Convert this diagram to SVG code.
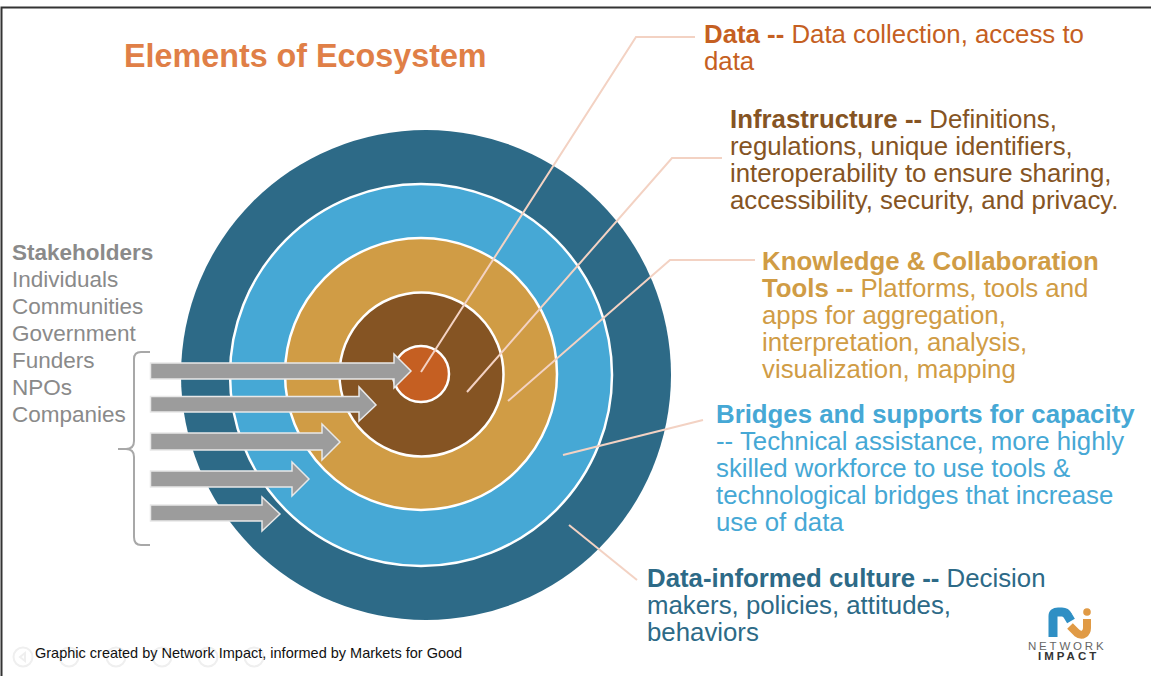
<svg xmlns="http://www.w3.org/2000/svg" width="1151" height="676" viewBox="0 0 1151 676">
<style>
text{font-family:"Liberation Sans",Arial,sans-serif;font-size:25.800px}
.b{font-weight:bold}
.ring{stroke:#fff;stroke-width:2.500}
.lead{fill:none;stroke:#f3d2c3;stroke-width:2}
.arrow{fill:#9c9c9c;stroke:#e8e8e8;stroke-width:1.500}
.nav{fill:none;stroke:#efefef;stroke-width:2}
.gray{fill:#8a8a8a}
.gray text{font-size:22.500px}
.d{fill:#c55f22}.i{fill:#855423}.k{fill:#d09c45}.s{fill:#46a8d5}.c{fill:#2d6a87}
</style>
<rect width="1151" height="676" fill="#fff"/>
<path d="M1.500 676V7.500H1151" fill="none" stroke="#333" stroke-width="2"/>
<g id="rings">
<circle class="c" cx="426" cy="375" r="245"/>
<circle class="ring s" cx="421" cy="375" r="191"/>
<circle class="ring k" cx="421" cy="374" r="136"/>
<circle class="ring i" cx="421.500" cy="374.500" r="82"/>
<circle class="ring d" cx="421" cy="374" r="28"/>
</g>
<g id="connectors">
<path class="lead" d="M421 372L636 37H695"/>
<path class="lead" d="M467 392L672 158H722"/>
<path class="lead" d="M508 401L670 260H755"/>
<path class="lead" d="M563 455L703 420"/>
<path class="lead" d="M569 525L637 580"/>
<path d="M150 352H141Q134 352 134 359V441Q134 449 126 449H118H126Q134 449 134 457V537Q134 545 141 545H150" fill="none" stroke="#a8a8a8" stroke-width="2"/>
</g>
<g id="arrows">
<path class="arrow" d="M150.500 363H394V354L411 371L394 388V379H150.500Z"/>
<path class="arrow" d="M150.500 396.500H359V387L376 405L359 421V412H150.500Z"/>
<path class="arrow" d="M150.500 433H322V424L340 442L322 460V450H150.500Z"/>
<path class="arrow" d="M150.500 471H292V462L309 479L292 496V487H150.500Z"/>
<path class="arrow" d="M150.500 505H262V497L280 514L262 531V521H150.500Z"/>
</g>
<g id="title"><text x="124" y="67" class="b" style="font-size:32.300px" fill="#e07f47">Elements of Ecosystem</text></g>
<g id="stakeholders" class="gray">
<text x="12" y="260" class="b">Stakeholders</text>
<text x="12" y="287">Individuals</text>
<text x="12" y="314">Communities</text>
<text x="12" y="341">Government</text>
<text x="12" y="368">Funders</text>
<text x="12" y="395">NPOs</text>
<text x="12" y="422">Companies</text>
</g>
<g id="data" class="d">
<text x="704" y="43"><tspan class="b">Data --</tspan> Data collection, access to</text>
<text x="704" y="70">data</text>
</g>
<g id="infrastructure" class="i">
<text x="730" y="128"><tspan class="b">Infrastructure --</tspan> Definitions,</text>
<text x="730" y="155">regulations, unique identifiers,</text>
<text x="730" y="182">interoperability to ensure sharing,</text>
<text x="730" y="209">accessibility, security, and privacy.</text>
</g>
<g id="knowledge" class="k">
<text x="762" y="270" class="b">Knowledge &amp; Collaboration</text>
<text x="762" y="297"><tspan class="b">Tools --</tspan> Platforms, tools and</text>
<text x="762" y="324">apps for aggregation,</text>
<text x="762" y="351">interpretation, analysis,</text>
<text x="762" y="378">visualization, mapping</text>
</g>
<g id="bridges" class="s">
<text x="716" y="423" class="b">Bridges and supports for capacity</text>
<text x="716" y="450">-- Technical assistance, more highly</text>
<text x="716" y="477">skilled workforce to use tools &amp;</text>
<text x="716" y="504">technological bridges that increase</text>
<text x="716" y="531">use of data</text>
</g>
<g id="culture" class="c">
<text x="647" y="587"><tspan class="b">Data-informed culture --</tspan> Decision</text>
<text x="647" y="614">makers, policies, attitudes,</text>
<text x="647" y="641">behaviors</text>
</g>
<g id="nav">
<circle class="nav" cx="23" cy="657" r="9.500"/><path class="nav" d="M25 653L20 657L25 661Z" stroke-width="1"/><circle class="nav" cx="69" cy="657" r="9.500"/><circle class="nav" cx="116" cy="657" r="9.500"/><circle class="nav" cx="162" cy="657" r="9.500"/><circle class="nav" cx="208" cy="657" r="9.500"/><circle class="nav" cx="254" cy="657" r="9.500"/>
</g>
<g id="credit"><text x="35" y="658" style="font-size:14.500px" fill="#111">Graphic created by Network Impact, informed by Markets for Good</text></g>
<g id="logo">
<path d="M1053 637V616Q1053 612 1058 612H1062Q1066 612 1068 616L1071 621" fill="none" stroke="#2f8fc4" stroke-width="9"/>
<path d="M1070 626L1077 633Q1081 636 1084 634Q1087 632 1087 628V619" fill="none" stroke="#e09a45" stroke-width="8"/>
<circle cx="1087" cy="612" r="3.800" fill="#e09a45"/>
<text x="1028" y="650" style="font-size:11.500px;letter-spacing:2.800px" fill="#666">NETWORK</text>
<text x="1038" y="660" class="b" style="font-size:11.500px;letter-spacing:3px" fill="#333">IMPACT</text>
</g>
</svg>
